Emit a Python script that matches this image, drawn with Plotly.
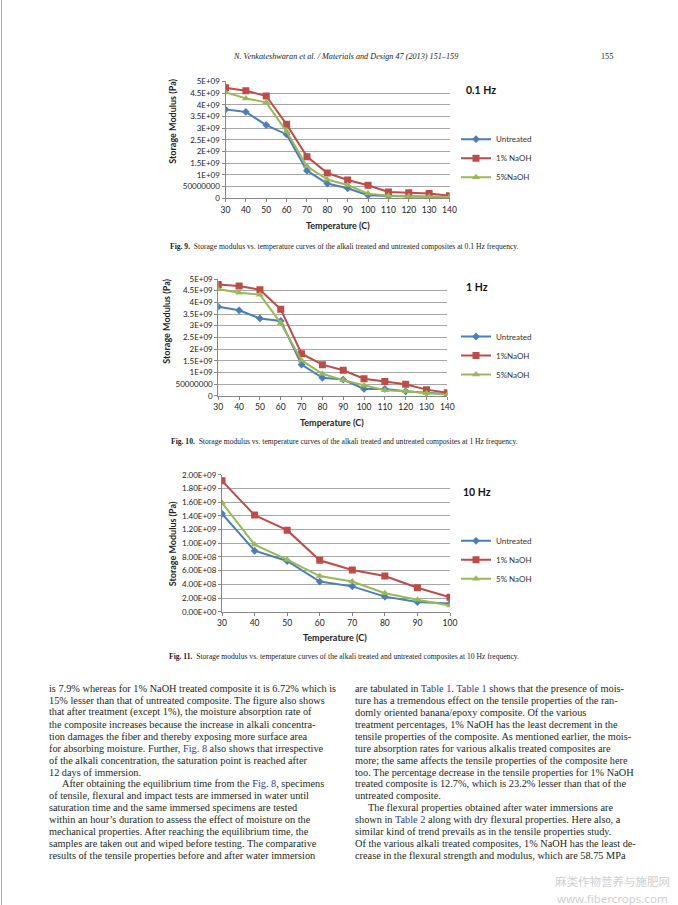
import plotly.graph_objects as go

W, H = 678, 905
def fx(x): return x / W
def fy(y): return 1 - y / H

# ---------------- data ----------------
temps_a = [30, 40, 50, 60, 70, 80, 90, 100, 110, 120, 130, 140]
untreated_01 = [3.80e9, 3.69e9, 3.13e9, 2.73e9, 1.18e9, 0.63e9, 0.43e9, 0.13e9, 0.10e9, 0.07e9, 0.07e9, 0.06e9]
naoh1_01 = [4.72e9, 4.60e9, 4.37e9, 3.16e9, 1.78e9, 1.08e9, 0.78e9, 0.56e9, 0.27e9, 0.24e9, 0.21e9, 0.11e9]
naoh5_01 = [4.53e9, 4.27e9, 4.10e9, 2.85e9, 1.37e9, 0.80e9, 0.57e9, 0.20e9, 0.11e9, 0.09e9, 0.07e9, 0.06e9]

untreated_1 = [3.81e9, 3.66e9, 3.31e9, 3.20e9, 1.33e9, 0.77e9, 0.69e9, 0.29e9, 0.29e9, 0.19e9, 0.13e9, 0.07e9]
naoh1_1 = [4.76e9, 4.70e9, 4.54e9, 3.70e9, 1.80e9, 1.33e9, 1.09e9, 0.73e9, 0.61e9, 0.49e9, 0.26e9, 0.13e9]
naoh5_1 = [4.57e9, 4.41e9, 4.33e9, 3.11e9, 1.51e9, 0.94e9, 0.66e9, 0.44e9, 0.23e9, 0.19e9, 0.11e9, 0.04e9]

temps_b = [30, 40, 50, 60, 70, 80, 90, 100]
untreated_10 = [1.43e9, 0.89e9, 0.74e9, 0.44e9, 0.37e9, 0.22e9, 0.14e9, 0.12e9]
naoh1_10 = [1.91e9, 1.41e9, 1.19e9, 0.75e9, 0.61e9, 0.52e9, 0.35e9, 0.21e9]
naoh5_10 = [1.59e9, 0.98e9, 0.76e9, 0.52e9, 0.44e9, 0.27e9, 0.175e9, 0.09e9]

series_names_a = ["Untreated", "1% NaOH", "5%NaOH"]
series_names_b = ["Untreated", "1%NaOH", "5%NaOH"]
series_names_c = ["Untreated", "1% NaOH", "5% NaOH"]

ytick_vals_a = [0, 0.5e9, 1e9, 1.5e9, 2e9, 2.5e9, 3e9, 3.5e9, 4e9, 4.5e9, 5e9]
ytick_text_a = ["0", "50000000", "1E+09", "1.5E+09", "2E+09", "2.5E+09", "3E+09", "3.5E+09", "4E+09", "4.5E+09", "5E+09"]
ytick_vals_c = [i * 0.2e9 for i in range(11)]
ytick_text_c = ["0.00E+00", "2.00E+08", "4.00E+08", "6.00E+08", "8.00E+08", "1.00E+09",
                "1.20E+09", "1.40E+09", "1.60E+09", "1.80E+09", "2.00E+09"]

colors = ["#4A7EBB", "#BE4B48", "#98B954"]
symbols = ["diamond", "square", "triangle-up"]
msizes = [6, 7, 7]

fig = go.Figure()

charts = [
    dict(x=temps_a, ys=[untreated_01, naoh1_01, naoh5_01], names=series_names_a, ax="", leg="legend",
         xd=(225.5, 449.5), yd=(198.3, 81.3), yr=[0, 5e9], tv=ytick_vals_a, tt=ytick_text_a, xr=[30, 140],
         hz="0.1 Hz", hzpos=(480.5, 90), legy=124.7, ytitle=(173, 121.7), xtitle=(338, 225)),
    dict(x=temps_a, ys=[untreated_1, naoh1_1, naoh5_1], names=series_names_b, ax="2", leg="legend2",
         xd=(218.3, 447.3), yd=(395.7, 279), yr=[0, 5e9], tv=ytick_vals_a, tt=ytick_text_a, xr=[30, 140],
         hz="1 Hz", hzpos=(477, 286.7), legy=322, ytitle=(167, 321.7), xtitle=(331.5, 422.7)),
    dict(x=temps_b, ys=[untreated_10, naoh1_10, naoh5_10], names=series_names_c, ax="3", leg="legend3",
         xd=(222, 450), yd=(611.7, 474.7), yr=[0, 2e9], tv=ytick_vals_c, tt=ytick_text_c, xr=[30, 100],
         hz="10 Hz", hzpos=(477, 491.7), legy=526.3, ytitle=(172.3, 544), xtitle=(335, 637)),
]

chart_font = "Lato, Liberation Sans, sans-serif"
annotations = []

def ann(x, y, text, font, xanchor="center", **kw):
    d = dict(x=fx(x), y=fy(y), xref="paper", yref="paper", text=text, showarrow=False,
             xanchor=xanchor, yanchor="middle", font=font, borderpad=0)
    d.update(kw)
    annotations.append(d)

for c in charts:
    for i in range(3):
        fig.add_trace(go.Scatter(
            x=c["x"], y=c["ys"][i], name=c["names"][i], mode="lines+markers",
            line=dict(color=colors[i], width=2),
            marker=dict(symbol=symbols[i], size=msizes[i], color=colors[i]),
            xaxis="x" + c["ax"], yaxis="y" + c["ax"], legend=c["leg"]))
    xa = dict(domain=[fx(c["xd"][0]), fx(c["xd"][1])], range=c["xr"], anchor="y" + c["ax"],
              tickvals=c["x"], ticks="outside", ticklen=3, tickcolor="#868686", automargin=False,
              showline=True, linecolor="#868686", linewidth=1, showgrid=False, zeroline=False,
              tickfont=dict(family=chart_font, size=8.5, color="#222"), fixedrange=True)
    ya = dict(domain=[fy(c["yd"][0]), fy(c["yd"][1])], range=c["yr"], anchor="x" + c["ax"],
              tickvals=c["tv"], ticktext=c["tt"], ticks="outside", ticklen=3, tickcolor="#868686",
              showline=True, linecolor="#868686", linewidth=1, showgrid=True, gridcolor="#A6A6A6",
              gridwidth=1, zeroline=False, tickfont=dict(family=chart_font, size=8, color="#222"),
              fixedrange=True, automargin=False)
    key = "" if c["ax"] == "" else c["ax"]
    fig.update_layout(**{"xaxis" + key: xa, "yaxis" + key: ya})
    fig.update_layout(**{c["leg"]: dict(x=fx(456), y=fy(c["legy"]), xanchor="left", yanchor="top",
                                         bgcolor="rgba(0,0,0,0)", itemwidth=30,
                                         font=dict(family=chart_font, size=8, color="#333"))})
    ann(c["hzpos"][0], c["hzpos"][1], "<b>%s</b>" % c["hz"],
        dict(family=chart_font, size=10.5, color="#111"))
    ann(c["ytitle"][0], c["ytitle"][1], "<b>Storage Modulus (Pa)</b>",
        dict(family=chart_font, size=9, color="#222"), textangle=-90)
    ann(c["xtitle"][0], c["xtitle"][1], "<b>Temperature (C)</b>",
        dict(family=chart_font, size=9, color="#222"))

serif = "Liberation Serif, DejaVu Serif, serif"

# header
ann(345, 57, "<i>N. Venkateshwaran et al. / Materials and Design 47 (2013) 151–159</i>",
    dict(family=serif, size=8.2, color="#222"))
ann(607, 57, "155", dict(family=serif, size=8.2, color="#222"))

captions = [
    ("Fig. 9.", "Storage modulus vs. temperature curves of the alkali treated and untreated composites at 0.1 Hz frequency.", 246.5),
    ("Fig. 10.", "Storage modulus vs. temperature curves of the alkali treated and untreated composites at 1 Hz frequency.", 441),
    ("Fig. 11.", "Storage modulus vs. temperature curves of the alkali treated and untreated composites at 10 Hz frequency.", 656.5),
]
for lab, txt, yy in captions:
    ann(344, yy, "<b>%s</b>  %s" % (lab, txt), dict(family=serif, size=7.6, color="#222"))

LINK = "#2f3b8f"
def lk(s):
    return '<span style="color:%s">%s</span>' % (LINK, s)

left_lines = [
    "is 7.9% whereas for 1% NaOH treated composite it is 6.72% which is",
    "15% lesser than that of untreated composite. The figure also shows",
    "that after treatment (except 1%), the moisture absorption rate of",
    "the composite increases because the increase in alkali concentra-",
    "tion damages the fiber and thereby exposing more surface area",
    "for absorbing moisture. Further, " + lk("Fig. 8") + " also shows that irrespective",
    "of the alkali concentration, the saturation point is reached after",
    "12 days of immersion.",
    "After obtaining the equilibrium time from the " + lk("Fig. 8") + ", specimens",
    "of tensile, flexural and impact tests are immersed in water until",
    "saturation time and the same immersed specimens are tested",
    "within an hour’s duration to assess the effect of moisture on the",
    "mechanical properties. After reaching the equilibrium time, the",
    "samples are taken out and wiped before testing. The comparative",
    "results of the tensile properties before and after water immersion",
]
right_lines = [
    "are tabulated in " + lk("Table 1") + ". " + lk("Table 1") + " shows that the presence of mois-",
    "ture has a tremendous effect on the tensile properties of the ran-",
    "domly oriented banana/epoxy composite. Of the various",
    "treatment percentages, 1% NaOH has the least decrement in the",
    "tensile properties of the composite. As mentioned earlier, the mois-",
    "ture absorption rates for various alkalis treated composites are",
    "more; the same affects the tensile properties of the composite here",
    "too. The percentage decrease in the tensile properties for 1% NaOH",
    "treated composite is 12.7%, which is 23.2% lesser than that of the",
    "untreated composite.",
    "The flexural properties obtained after water immersions are",
    "shown in " + lk("Table 2") + " along with dry flexural properties. Here also, a",
    "similar kind of trend prevails as in the tensile properties study.",
    "Of the various alkali treated composites, 1% NaOH has the least de-",
    "crease in the flexural strength and modulus, which are 58.75 MPa",
]
left_indent = {8}
right_indent = {10}
for lines, x0, ind in [(left_lines, 48, left_indent), (right_lines, 354, right_indent)]:
    for i, t in enumerate(lines):
        xx = x0 + (13 if i in ind else 0)
        ann(xx, 688.5 + i * 11.93, t, dict(family=serif, size=10.3, color="#231f20"), xanchor="left")

# watermark
ann(612, 881, "麻类作物营养与施肥网", dict(family="Noto Sans CJK SC", size=11.5, color="#cfcfcf"))
ann(612, 898, "www.fibercrops.com", dict(family="Noto Sans, sans-serif", size=11.5, color="#cfcfcf"))

fig.update_layout(
    template="none",
    width=W, height=H, margin=dict(l=0, r=0, t=0, b=0, pad=0, autoexpand=False),
    paper_bgcolor="white", plot_bgcolor="white",
    annotations=annotations,
    shapes=[dict(type="line", xref="paper", yref="paper", x0=fx(1.5), x1=fx(1.5), y0=0, y1=1,
                 line=dict(color="#aaaaaa", width=1))],
)

fig.write_html("out.html", config={"displayModeBar": False},
               post_script="document.documentElement.style.margin='0';document.body.style.margin='0';"
                           "document.body.style.padding='0';document.body.style.overflow='hidden';")
